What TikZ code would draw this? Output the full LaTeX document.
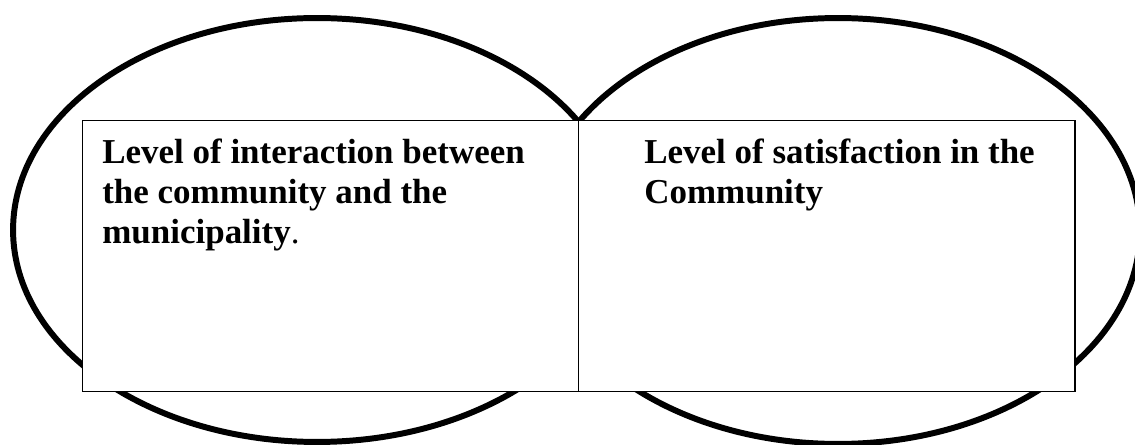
\documentclass[tikz,border=0pt]{standalone}
\usepackage{fontspec}
\setmainfont{Liberation Serif}
\usetikzlibrary{shapes.geometric}
\begin{document}
\begin{tikzpicture}[x=0.02cm,y=-0.02cm,
  ring/.style={draw=black,line width=3.4pt,ellipse,inner sep=0pt},
  panel/.style={draw=black,fill=white,line width=0.8pt,rectangle,inner sep=0pt,
    minimum width=9.93cm,minimum height=5.42cm,anchor=north west},
  label/.style={anchor=base west,inner sep=0pt,align=left,
    font=\fontsize{19.9pt}{22.7pt}\selectfont\bfseries}]
\useasboundingbox (0,0) rectangle (1135,445);
\clip (0,0) rectangle (1135,445);
% ellipses
\node[ring,minimum width=12.16cm,minimum height=8.48cm] (lring) at (317,230) {};
\node[ring,minimum width=12.08cm,minimum height=8.52cm] (rring) at (838,231) {};
% boxes
\node[panel] (lbox) at (81.5,120) {};
\node[panel] (rbox) at (578,120) {};
% texts
\node[label] (ltext) at (102,164) {\begin{tabular}[t]{@{}l@{}}Level of interaction between\\ the community and the\\ municipality{\mdseries .}\end{tabular}};
\node[label] (rtext) at (644,164) {\begin{tabular}[t]{@{}l@{}}Level of satisfaction in the\\ Community\end{tabular}};
\end{tikzpicture}
\end{document}
